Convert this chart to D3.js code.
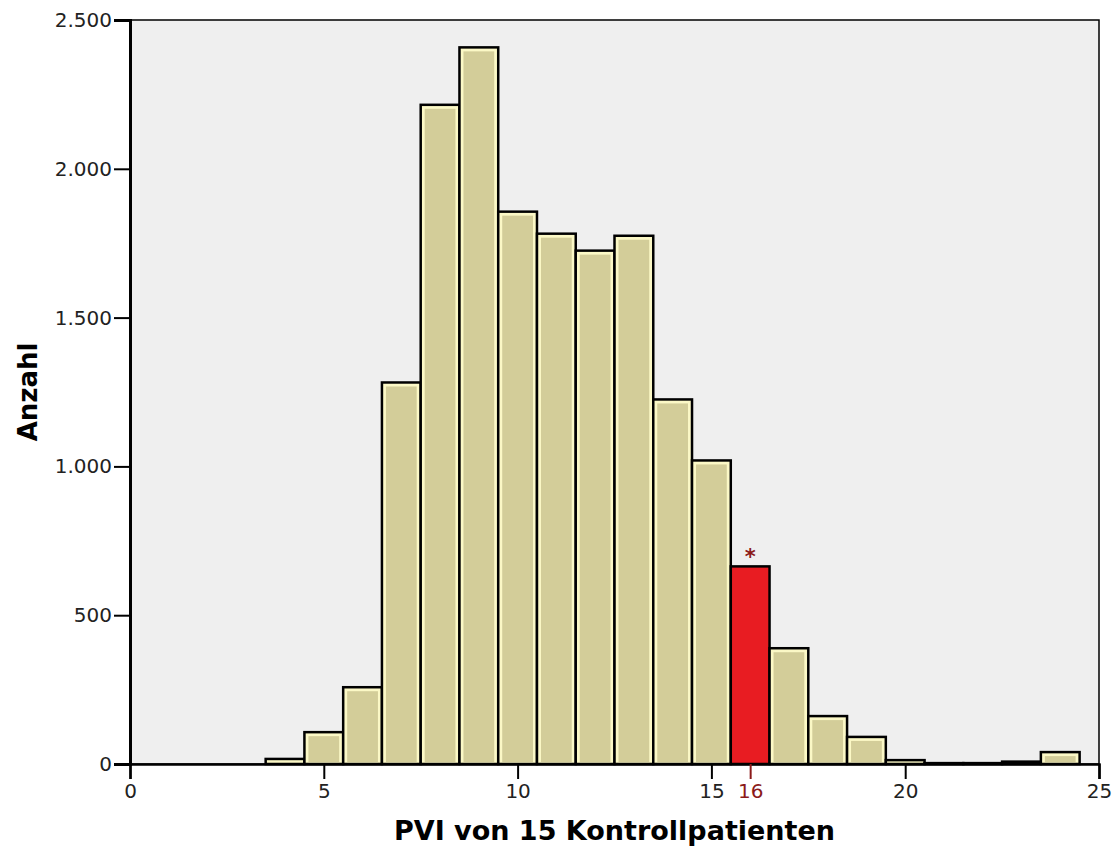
<!DOCTYPE html>
<html>
<head>
<meta charset="utf-8">
<script src="https://cdn.jsdelivr.net/npm/d3@7"></script>
<style>
  body { margin: 0; background: #fff; }
  text { font-family: "DejaVu Sans", Tahoma, sans-serif; }
</style>
</head>
<body>
<svg id="chart" width="1117" height="849"></svg>
<script>
// PVI values (bin centres) and counts
const pviValues = [4, 5, 6, 7, 8, 9, 10, 11, 12, 13, 14, 15, 16, 17, 18, 19, 20, 21, 22, 23, 24]
const counts    = [17, 107, 258, 1282, 2215, 2408, 1856, 1782, 1725, 1775, 1225, 1020, 664, 389, 161, 91, 13, 3, 3, 8, 40]
const highlightValue = 16

const xTicks = [0, 5, 10, 15, 20, 25]
const yTicks = [0, 500, 1000, 1500, 2000, 2500]

const margin = {left: 130, right: 18, top: 20, bottom: 85}
const width = 1117, height = 849

let svg = d3.select('svg#chart')

let x = d3.scaleLinear()
    .domain([0, 25])
    .range([margin.left, width - margin.right])
let y = d3.scaleLinear()
    .domain([0, 2500])
    .range([height - margin.bottom, margin.top])

// plot background
svg.append('rect')
    .attr('x', x(0)).attr('y', y(2500))
    .attr('width', x(25) - x(0)).attr('height', y(0) - y(2500))
    .attr('fill', '#efefef')
    .attr('stroke', '#000')
    .attr('stroke-width', 1.5)

let bins = pviValues.map((v, i) => ({v: v, n: counts[i]}))

let bars = svg.append('g').selectAll('g')
    .data(bins)
    .enter()
    .append('g')

// outer bar with black outline
bars.append('rect')
    .attr('x', d => x(d.v - 0.5))
    .attr('y', d => y(d.n))
    .attr('width', d => x(d.v + 0.5) - x(d.v - 0.5))
    .attr('height', d => y(0) - y(d.n))
    .attr('fill', d => d.v === highlightValue ? '#e81c22' : '#fbf8c6')
    .attr('stroke', '#000')
    .attr('stroke-width', 2.5)

// inner khaki fill (the light border is what's left of the outer rect)
bars.filter(d => d.v !== highlightValue && y(0) - y(d.n) > 8)
    .append('rect')
    .attr('x', d => x(d.v - 0.5) + 4)
    .attr('y', d => y(d.n) + 4)
    .attr('width', d => x(d.v + 0.5) - x(d.v - 0.5) - 8)
    .attr('height', d => y(0) - y(d.n) - 6)
    .attr('fill', '#d3cd99')

// asterisk over the highlighted bar
let hi = bins.find(d => d.v === highlightValue)
svg.append('text')
    .attr('x', x(hi.v))
    .attr('y', y(hi.n) - 2)
    .attr('text-anchor', 'middle')
    .attr('font-size', 21)
    .attr('font-weight', 'bold')
    .attr('fill', '#8b1a1a')
    .text('*')

// y axis
let yAxis = d3.axisLeft(y)
    .tickValues(yTicks)
    .tickFormat(d => d3.format(',')(d).replace(/,/g, '.'))
    .tickSize(16)
    .tickPadding(2)
let gy = svg.append('g')
    .attr('transform', `translate(${x(0)},0)`)
    .call(yAxis)
gy.select('.domain').attr('stroke-width', 3)
gy.selectAll('.tick line').attr('stroke-width', 2)
gy.selectAll('.tick text').attr('font-size', 20).attr('fill', '#222')

// x axis
let xAxis = d3.axisBottom(x)
    .tickValues(xTicks.concat([highlightValue]))
    .tickSize(15)
    .tickPadding(5)
let gx = svg.append('g')
    .attr('transform', `translate(0,${y(0)})`)
    .call(xAxis)
gx.select('.domain').attr('stroke-width', 2.5)
gx.selectAll('.tick line').attr('stroke-width', 2)
gx.selectAll('.tick text').attr('font-size', 20).attr('fill', '#222')
gx.selectAll('.tick')
    .filter(d => d === highlightValue)
    .each(function() {
        d3.select(this).select('text').attr('fill', '#8b1a1a')
        d3.select(this).select('line').attr('stroke', '#8b1a1a')
    })

// axis titles
svg.append('text')
    .attr('x', (x(0) + x(25)) / 2)
    .attr('y', 840)
    .attr('text-anchor', 'middle')
    .attr('font-size', 27)
    .attr('font-weight', 'bold')
    .text('PVI von 15 Kontrollpatienten')

svg.append('text')
    .attr('transform', 'translate(37,' + ((y(0) + y(2500)) / 2) + ') rotate(-90)')
    .attr('text-anchor', 'middle')
    .attr('font-size', 26)
    .attr('font-weight', 'bold')
    .text('Anzahl')
</script>
</body>
</html>
